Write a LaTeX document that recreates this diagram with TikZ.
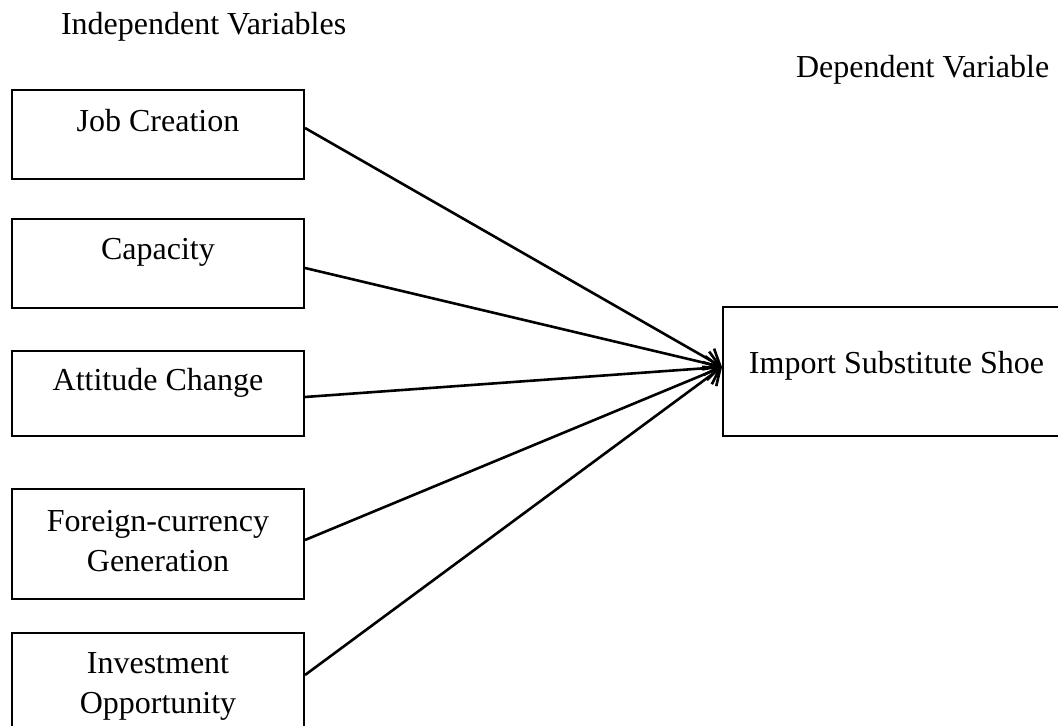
\documentclass[tikz,border=0pt]{standalone}
\usepackage{fontspec}
\setmainfont{Liberation Serif}
\usetikzlibrary{arrows.meta}

\begin{document}
\begin{tikzpicture}[x=.5pt, y=-.5pt, line width=1pt,
    box/.style={draw, rectangle, inner sep=0pt, minimum width=146pt},
    lbl/.style={anchor=base, align=center, inner sep=0pt, font=\fontsize{16}{20}\selectfont},
    arr/.style={line width=1.3pt, -{Straight Barb[length=7pt, width=12pt]}}]
    \useasboundingbox (0,0) rectangle (1058,726);
    \node[lbl, anchor=base west] (indep) at (60,35) {Independent Variables};
    \node[lbl, anchor=base west] (dep) at (795,78) {Dependent Variable};
    \node[box, minimum height=44.5pt] (jobbox) at (158,134.5) {};
    \node[box, minimum height=44.5pt] (capbox) at (158,263.5) {};
    \node[box, minimum height=42.5pt] (attbox) at (158,393.5) {};
    \node[box, minimum height=55pt] (forbox) at (158,544) {};
    \node[box, minimum height=60pt] (invbox) at (158,693) {};
    \node[box, minimum width=173.5pt, minimum height=64.5pt] (isbox) at (896.5,371.5) {};
    \node[lbl] (job) at (158,131.5) {Job Creation};
    \node[lbl] (cap) at (158,260) {Capacity};
    \node[lbl] (att) at (158,391) {Attitude Change};
    \node[lbl] (for) at (158,571) {Foreign-currency\\Generation};
    \node[lbl] (inv) at (158,713) {Investment\\Opportunity};
    \node[lbl] (is) at (896.5,373) {Import Substitute Shoe};
    \draw[arr] ([yshift=3.25pt]jobbox.east) -- ([yshift=2.25pt]isbox.west);
    \draw[arr] ([yshift=-2.25pt]capbox.east) -- ([yshift=2.25pt]isbox.west);
    \draw[arr] ([yshift=-1.75pt]attbox.east) -- ([yshift=2.25pt]isbox.west);
    \draw[arr] ([yshift=2pt]forbox.east) -- ([yshift=2.25pt]isbox.west);
    \draw[arr] ([yshift=9pt]invbox.east) -- ([yshift=2.25pt]isbox.west);
\end{tikzpicture}
\end{document}
